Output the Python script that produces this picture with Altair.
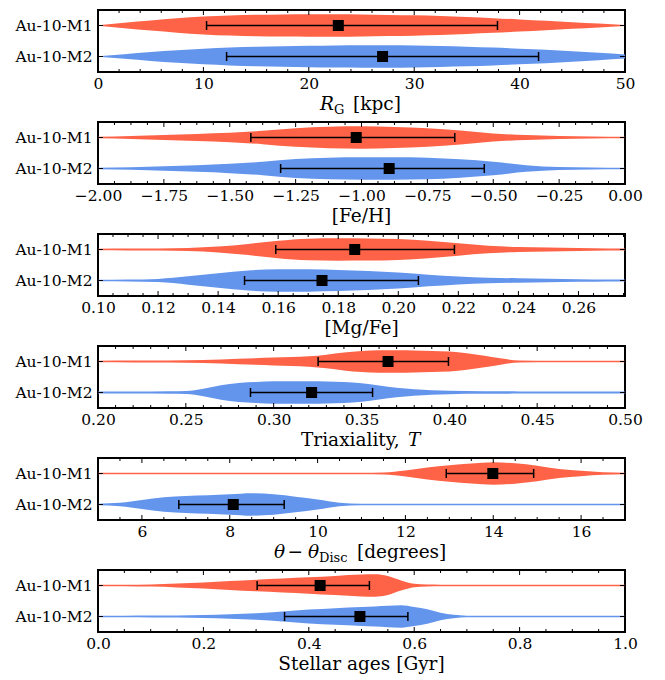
import altair as alt
import pandas as pd

FONT = "DejaVu Serif"
RED = "#FF6347"
BLUE = "#6495ED"
SERIES = ["Au-10-M1", "Au-10-M2"]
POS = [2, 1]
W, H = 527, 62
HALF = 0.36
TICK_FS = 15.5
TITLE_FS = 18.5
TITLE_Y = 38

# ---------------- Panel 1: R_G [kpc] ----------------
RG_DOM = [0, 50]
RG_MAJ = [0, 10, 20, 30, 40, 50]
RG_MINSTEP = 2
RG_X = [0, 2.5, 5, 7.5, 10, 12.5, 15, 17.5, 20, 22.5, 25, 27.5, 30, 32.5, 35, 37.5, 40, 42.5, 45, 47.5, 50]
RG_M1 = [0.03, 0.25, 0.45, 0.64, 0.8, 0.9, 0.96, 0.99, 1.0, 1.0, 0.98, 0.95, 0.91, 0.85, 0.76, 0.66, 0.54, 0.42, 0.3, 0.17, 0.04]
RG_M2 = [0.03, 0.2, 0.4, 0.56, 0.7, 0.8, 0.87, 0.92, 0.96, 0.99, 1.0, 1.0, 0.98, 0.94, 0.88, 0.8, 0.7, 0.6, 0.47, 0.33, 0.18]
RG_STATS = {"Au-10-M1": (22.8, 10.3, 37.9), "Au-10-M2": (27.0, 12.2, 41.8)}

# ---------------- Panel 2: [Fe/H] ----------------
FEH_DOM = [-2.0, 0.0]
FEH_MAJ = [-2.0, -1.75, -1.5, -1.25, -1.0, -0.75, -0.5, -0.25, 0.0]
FEH_MINSTEP = 0.0625
FEH_X = [-2, -1.875, -1.75, -1.625, -1.5, -1.375, -1.25, -1.125, -1, -0.875, -0.75, -0.625, -0.5, -0.375, -0.25, -0.125, 0]
FEH_M1 = [0.07, 0.14, 0.23, 0.32, 0.42, 0.6, 0.84, 0.96, 1.0, 0.95, 0.84, 0.62, 0.36, 0.22, 0.13, 0.08, 0.06]
FEH_M2 = [0.06, 0.12, 0.2, 0.3, 0.42, 0.6, 0.85, 0.96, 1.0, 1.0, 0.96, 0.82, 0.6, 0.3, 0.13, 0.08, 0.06]
FEH_STATS = {"Au-10-M1": (-1.02, -1.42, -0.646), "Au-10-M2": (-0.895, -1.307, -0.534)}

# ---------------- Panel 3: [Mg/Fe] ----------------
MGFE_DOM = [0.1, 0.2755]
MGFE_MAJ = [0.10, 0.12, 0.14, 0.16, 0.18, 0.20, 0.22, 0.24, 0.26]
MGFE_MINSTEP = 0.005
MGFE_X = [0.10, 0.11, 0.12, 0.13, 0.14, 0.15, 0.16, 0.17, 0.18, 0.19, 0.20, 0.21, 0.22, 0.23, 0.24, 0.25, 0.26, 0.27, 0.2755]
MGFE_M1 = [0.07, 0.08, 0.1, 0.14, 0.26, 0.5, 0.78, 0.97, 1.0, 0.99, 0.94, 0.78, 0.55, 0.34, 0.22, 0.17, 0.13, 0.1, 0.09]
MGFE_M2 = [0.06, 0.08, 0.14, 0.37, 0.66, 0.9, 1.0, 1.0, 0.95, 0.86, 0.72, 0.52, 0.35, 0.25, 0.2, 0.16, 0.12, 0.09, 0.08]
MGFE_STATS = {"Au-10-M1": (0.1855, 0.1592, 0.2187), "Au-10-M2": (0.1746, 0.1488, 0.2067)}

# ---------------- Panel 4: Triaxiality ----------------
TRI_DOM = [0.2, 0.5]
TRI_MAJ = [0.20, 0.25, 0.30, 0.35, 0.40, 0.45, 0.50]
TRI_MINSTEP = 0.01
TRI_X1 = [0.2, 0.22, 0.24, 0.26, 0.28, 0.3, 0.31, 0.32, 0.33, 0.34, 0.35, 0.36, 0.37, 0.38, 0.39, 0.4, 0.41, 0.42, 0.43, 0.44, 0.46, 0.48, 0.5]
TRI_M1 = [0.07, 0.08, 0.09, 0.14, 0.25, 0.35, 0.4, 0.46, 0.6, 0.8, 0.94, 1.0, 1.0, 0.98, 0.95, 0.9, 0.75, 0.52, 0.26, 0.1, 0.07, 0.07, 0.07]
TRI_X2 = [0.2, 0.22, 0.24, 0.25, 0.26, 0.27, 0.28, 0.29, 0.3, 0.31, 0.32, 0.33, 0.34, 0.35, 0.36, 0.37, 0.38, 0.39, 0.4, 0.42, 0.44, 0.47, 0.5]
TRI_M2 = [0.08, 0.1, 0.12, 0.14, 0.34, 0.66, 0.86, 0.94, 1.0, 1.0, 1.0, 0.98, 0.94, 0.83, 0.63, 0.43, 0.29, 0.2, 0.15, 0.12, 0.1, 0.08, 0.08]
TRI_STATS = {"Au-10-M1": (0.3651, 0.3253, 0.3995), "Au-10-M2": (0.3216, 0.2868, 0.3563)}

# ---------------- Panel 5: theta - theta_Disc ----------------
TH_DOM = [5, 17]
TH_MAJ = [6, 8, 10, 12, 14, 16]
TH_MINSTEP = 0.5
TH_X1 = [5, 6, 7, 8, 9, 10, 11, 11.5, 12, 12.5, 13, 13.5, 14, 14.5, 15, 15.5, 16, 16.5, 17]
TH_M1 = [0.06, 0.06, 0.06, 0.06, 0.06, 0.06, 0.07, 0.09, 0.26, 0.53, 0.74, 0.9, 1.0, 0.91, 0.7, 0.41, 0.24, 0.12, 0.07]
TH_X2 = [5, 5.5, 6, 6.5, 7, 7.5, 8, 8.5, 9, 9.5, 10, 10.5, 11, 12, 13, 14, 15, 16, 17]
TH_M2 = [0.07, 0.15, 0.4, 0.64, 0.76, 0.83, 0.91, 1.0, 0.92, 0.7, 0.45, 0.16, 0.07, 0.07, 0.07, 0.07, 0.07, 0.07, 0.07]
TH_STATS = {"Au-10-M1": (13.99, 12.93, 14.92), "Au-10-M2": (8.08, 6.84, 9.24)}

# ---------------- Panel 6: Stellar ages ----------------
AGE_DOM = [0.0, 1.0]
AGE_MAJ = [0.0, 0.2, 0.4, 0.6, 0.8, 1.0]
AGE_MINSTEP = 0.05
AGE_X = [0, 0.05, 0.1, 0.15, 0.2, 0.25, 0.3, 0.35, 0.4, 0.45, 0.5, 0.525, 0.55, 0.575, 0.6, 0.625, 0.65, 0.675, 0.7, 0.8, 0.9, 1.0]
AGE_M1 = [0.06, 0.07, 0.1, 0.17, 0.27, 0.4, 0.52, 0.63, 0.74, 0.86, 0.98, 1.0, 0.85, 0.45, 0.15, 0.08, 0.07, 0.06, 0.06, 0.06, 0.06, 0.06]
AGE_M2 = [0.06, 0.07, 0.08, 0.1, 0.13, 0.2, 0.3, 0.45, 0.62, 0.75, 0.85, 0.9, 0.96, 1.0, 0.85, 0.64, 0.33, 0.15, 0.07, 0.06, 0.06, 0.06]
AGE_STATS = {"Au-10-M1": (0.4215, 0.302, 0.515), "Au-10-M2": (0.497, 0.354, 0.588)}


def violin_df(x1, d1, x2, d2):
    rows = []
    for s, p, xs, ds in [(SERIES[0], POS[0], x1, d1), (SERIES[1], POS[1], x2, d2)]:
        for x, d in zip(xs, ds):
            rows.append({"series": s, "pos": p, "x": x, "d": d})
    return pd.DataFrame(rows)


def stats_df(stats):
    rows = []
    for s, p in zip(SERIES, POS):
        med, lo, hi = stats[s]
        rows.append({"series": s, "pos": p, "med": med, "lo": lo, "hi": hi})
    return pd.DataFrame(rows)


def minor_ticks(dom, step, majors):
    out = []
    k = 0
    while True:
        v = round(dom[0] + k * step, 6)
        if v > dom[1] + 1e-9:
            break
        if all(abs(v - m) > 1e-9 for m in majors):
            out.append(v)
        k += 1
    return out


def panel(dom, majors, minstep, fmt, vdf, sdf, title_parts):
    xs = alt.Scale(domain=dom, nice=False, zero=False)
    ys = alt.Scale(domain=[0.5, 2.5], nice=False, zero=False)
    xax = alt.Axis(values=majors, format=fmt, grid=False, domain=False, tickSize=0,
                   labelPadding=4, title=None, labelFlush=False, labelFont=FONT,
                   labelFontSize=TICK_FS, labelColor="black")
    yax = alt.Axis(values=[1, 2], labelExpr="datum.value == 2 ? 'Au-10-M1' : 'Au-10-M2'",
                   grid=False, domain=False, tickSize=0, labelPadding=6, title=None,
                   labelFont=FONT, labelFontSize=TICK_FS, labelColor="black")
    color = alt.Color("series:N", scale=alt.Scale(domain=SERIES, range=[RED, BLUE]), legend=None)

    def X(f):
        return alt.X(f, scale=xs, axis=xax)

    def Y(f):
        return alt.Y(f, scale=ys, axis=yax)

    violins = alt.Chart(vdf).transform_calculate(
        vlo=f"datum.pos - {HALF} * datum.d",
        vhi=f"datum.pos + {HALF} * datum.d",
    ).mark_area(interpolate="monotone", opacity=1, clip=True).encode(
        x=X("x:Q"), y=Y("vlo:Q"), y2="vhi:Q", color=color,
    )

    base = alt.Chart(sdf)
    err = base.mark_rule(color="black", strokeWidth=1.5).encode(
        x=X("lo:Q"), x2="hi:Q", y=Y("pos:Q"))
    cap_lo = base.mark_tick(orient="vertical", color="black", thickness=1.5, size=9, opacity=1).encode(
        x=X("lo:Q"), y=Y("pos:Q"))
    cap_hi = base.mark_tick(orient="vertical", color="black", thickness=1.5, size=9, opacity=1).encode(
        x=X("hi:Q"), y=Y("pos:Q"))
    sq = base.mark_square(size=121, color="black", opacity=1, filled=True).encode(
        x=X("med:Q"), y=Y("pos:Q"))

    maj_df = pd.DataFrame({"t": majors})
    min_df = pd.DataFrame({"t": minor_ticks(dom, minstep, majors)})
    tick_layers = []
    for df, ln in [(maj_df, 5), (min_df, 3)]:
        tb = alt.Chart(df).mark_rule(color="black", strokeWidth=1)
        tick_layers.append(tb.encode(x=X("t:Q"), y=alt.value(H), y2=alt.value(H - ln)))
        tick_layers.append(tb.encode(x=X("t:Q"), y=alt.value(0), y2=alt.value(ln)))
    ydf = pd.DataFrame({"p": POS})
    yb = alt.Chart(ydf).mark_rule(color="black", strokeWidth=1)
    tick_layers.append(yb.encode(y=Y("p:Q"), x=alt.value(0), x2=alt.value(5)))
    tick_layers.append(yb.encode(y=Y("p:Q"), x=alt.value(W - 5), x2=alt.value(W)))

    one = pd.DataFrame({"a": [0]})
    title_layers = []
    for text, x, dy, size, style, align in title_parts:
        title_layers.append(
            alt.Chart(one).mark_text(
                text=text, font=FONT, fontSize=size, fontStyle=style, align=align,
                baseline="alphabetic", color="black",
            ).encode(x=alt.value(x), y=alt.value(H + TITLE_Y + dy))
        )

    return alt.layer(violins, err, cap_lo, cap_hi, sq, *tick_layers, *title_layers).properties(width=W, height=H)


p1 = panel(RG_DOM, RG_MAJ, RG_MINSTEP, "d", violin_df(RG_X, RG_M1, RG_X, RG_M2), stats_df(RG_STATS),
           [("R", 222, 0, TITLE_FS, "italic", "left"),
            ("G", 236, 4, 13, "normal", "left"),
            ("[kpc]", 255, 0, TITLE_FS, "normal", "left")])
p2 = panel(FEH_DOM, FEH_MAJ, FEH_MINSTEP, ".2f", violin_df(FEH_X, FEH_M1, FEH_X, FEH_M2), stats_df(FEH_STATS),
           [("[Fe/H]", W / 2, 0, TITLE_FS, "normal", "center")])
p3 = panel(MGFE_DOM, MGFE_MAJ, MGFE_MINSTEP, ".2f", violin_df(MGFE_X, MGFE_M1, MGFE_X, MGFE_M2), stats_df(MGFE_STATS),
           [("[Mg/Fe]", W / 2, 0, TITLE_FS, "normal", "center")])
p4 = panel(TRI_DOM, TRI_MAJ, TRI_MINSTEP, ".2f", violin_df(TRI_X1, TRI_M1, TRI_X2, TRI_M2), stats_df(TRI_STATS),
           [("Triaxiality,", 203, 0, TITLE_FS, "normal", "left"),
            ("T", 310, 0, TITLE_FS, "italic", "left")])
p5 = panel(TH_DOM, TH_MAJ, TH_MINSTEP, "d", violin_df(TH_X1, TH_M1, TH_X2, TH_M2), stats_df(TH_STATS),
           [("θ", 176, 0, TITLE_FS, "italic", "left"),
            ("−", 189.5, 0, TITLE_FS, "normal", "left"),
            ("θ", 210, 0, TITLE_FS, "italic", "left"),
            ("Disc", 221, 4, 13, "normal", "left"),
            ("[degrees]", 259, 0, TITLE_FS, "normal", "left")])
p6 = panel(AGE_DOM, AGE_MAJ, AGE_MINSTEP, ".1f", violin_df(AGE_X, AGE_M1, AGE_X, AGE_M2), stats_df(AGE_STATS),
           [("Stellar ages [Gyr]", W / 2, 0, TITLE_FS, "normal", "center")])

chart = alt.vconcat(p1, p2, p3, p4, p5, p6, spacing=50, bounds="flush").configure_view(
    stroke="black", strokeWidth=2
).properties(
    padding={"left": 5, "right": 5, "top": 0, "bottom": 0}
)

chart.save("out.html", embed_options={"renderer": "svg", "actions": False})
